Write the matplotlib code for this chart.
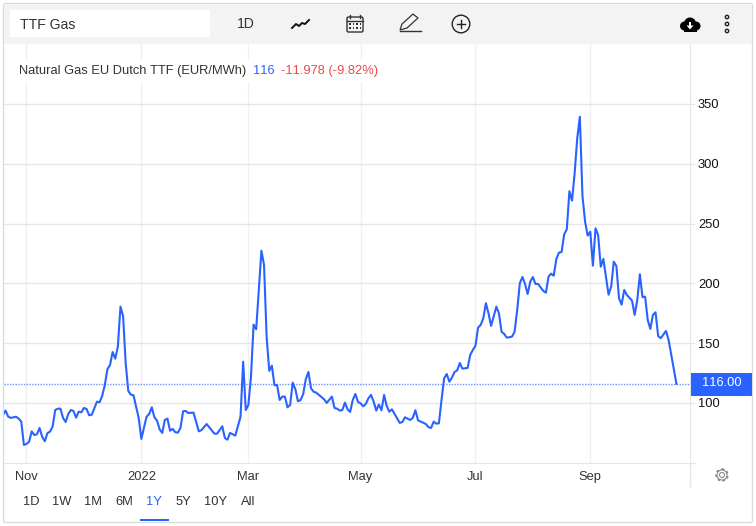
import matplotlib
matplotlib.use("Agg")
import matplotlib.pyplot as plt
import matplotlib.patches as mpatches

plt.rcParams["font.family"] = ["Liberation Sans", "DejaVu Sans"]
plt.rcParams["text.kerning_factor"] = 6

BLUE = "#2962ff"
GRID = "#e6e6e6"
GRID_V = "#f0f0f0"
TEXT = "#333333"
FS = 9.3

# trading sessions counted from 1 Nov 2021, only the visible vertices of the line
sessions = [
    -9, -8, -7, -6, -4, -3, -2, -1, 0, 1, 2, 3, 4, 5, 6, 7, 8, 9, 10, 11, 12, 13, 14, 15, 16, 17, 18, 19, 20,
    21, 22, 23, 24, 25, 27, 28, 29, 30, 31, 32, 33, 34, 35, 36, 37, 38, 39, 40, 41, 43, 44, 46, 47, 48, 49, 50,
    51, 52, 53, 54, 55, 56, 57, 58, 59, 60, 61, 62, 64, 66, 67, 69, 72, 73, 75, 76, 77, 78, 80, 82, 83, 84, 85,
    86, 87, 88, 90, 91, 92, 93, 94, 95, 96, 97, 98, 99, 100, 101, 102, 103, 104, 105, 106, 107, 108, 109, 110,
    111, 114, 115, 117, 118, 119, 120, 121, 122, 123, 124, 125, 126, 127, 128, 129, 130, 131, 132, 133, 134,
    135, 136, 137, 138, 139, 140, 143, 144, 145, 147, 148, 149, 150, 153, 154, 155, 156, 157, 158, 159, 160,
    161, 162, 163, 164, 165, 166, 167, 169, 170, 171, 172, 173, 174, 175, 176, 177, 178, 180, 181, 182, 183,
    184, 186, 187, 188, 189, 190, 191, 192, 193, 194, 195, 196, 198, 199, 200, 201, 202, 203, 204, 205, 206,
    207, 208, 209, 210, 211, 212, 213, 214, 215, 216, 217, 218, 219, 220, 221, 222, 223, 224, 225, 226, 227,
    228, 229, 230, 232, 233, 234, 235, 236, 237, 238, 239, 240, 241, 242, 243, 245, 246, 249,
]
prices = [
    90.0, 93.6, 88.5, 87.5, 88.5, 86.9, 84.4, 64.9, 65.7, 67.6, 76.3, 73.2, 73.8, 79.1, 71.8, 68.0, 74.7, 76.0,
    80.2, 94.1, 95.2, 95.2, 87.5, 84.1, 90.8, 94.1, 93.3, 87.7, 92.7, 92.2, 95.8, 95.0, 89.7, 90.2, 101.1,
    100.6, 105.9, 115.0, 128.2, 131.8, 142.6, 137.0, 147.1, 180.5, 172.7, 133.2, 110.0, 106.9, 106.4, 87.2,
    69.9, 88.5, 90.8, 96.4, 88.0, 85.2, 78.0, 74.9, 85.8, 86.9, 76.8, 78.3, 75.5, 75.2, 79.1, 93.1, 93.3, 91.6,
    91.9, 76.3, 77.2, 82.4, 74.3, 74.3, 80.5, 70.7, 69.3, 74.9, 72.7, 88.5, 134.5, 94.1, 98.3, 122.0, 165.5,
    161.6, 227.3, 215.4, 155.4, 126.8, 131.2, 114.8, 115.0, 102.5, 105.3, 105.3, 96.4, 98.3, 117.0, 111.5,
    101.4, 102.5, 107.3, 119.8, 125.9, 112.3, 109.4, 108.6, 103.1, 100.0, 105.3, 95.8, 95.2, 93.6, 94.1, 100.3,
    94.7, 92.5, 102.5, 107.5, 100.8, 99.7, 97.2, 99.2, 103.9, 106.7, 101.1, 93.6, 98.6, 93.9, 106.7, 97.5, 92.7,
    94.7, 83.3, 84.1, 88.0, 85.8, 87.5, 93.9, 85.5, 82.4, 79.7, 79.1, 84.4, 82.7, 83.0, 102.5, 120.6, 124.2,
    117.8, 121.2, 125.9, 127.2, 133.4, 128.7, 129.3, 140.1, 144.3, 147.7, 163.0, 165.2, 170.8, 183.4, 175.0,
    164.4, 180.5, 175.0, 159.6, 157.7, 154.6, 155.4, 159.6, 177.7, 200.1, 205.3, 199.5, 191.1, 201.4, 205.3,
    199.5, 199.5, 193.6, 192.2, 205.6, 208.1, 206.4, 220.4, 225.7, 226.2, 241.0, 245.2, 277.0, 269.1, 292.0,
    321.3, 339.3, 273.1, 251.6, 239.9, 243.2, 214.8, 246.0, 240.4, 213.9, 220.4, 205.6, 190.5, 197.2, 218.1,
    214.5, 187.5, 182.2, 194.5, 190.3, 185.5, 173.6, 186.1, 207.6, 188.4, 188.9, 169.4, 161.9, 173.6, 175.8,
    156.0, 154.1, 160.2, 152.7, 116.0,
]
last_price = 116

month_ticks = [0, 44, 85, 128, 172, 216]
month_labels = ["Nov", "2022", "Mar", "May", "Jul", "Sep"]
price_ticks = [100, 150, 200, 250, 300, 350]
ranges = ["1D", "1W", "1M", "6M", "1Y", "5Y", "10Y", "All"]
range_x = [31, 62, 93, 124, 154, 183, 216, 248]

W, H = 756, 526
fig = plt.figure(figsize=(W / 100, H / 100), dpi=100)

# page furniture, in pixels
bg = fig.add_axes([0, 0, 1, 1], zorder=0)
bg.set_xlim(0, W)
bg.set_ylim(H, 0)
bg.axis("off")
bg.add_patch(mpatches.FancyBboxPatch((3.5, 3.5), 749, 519, boxstyle="round,pad=0,rounding_size=2",
                                     fc="white", ec="#dcdcdc", lw=1))
bg.add_patch(mpatches.Rectangle((4, 4), 748, 40, fc="#f3f3f3", ec="none"))
bg.add_patch(mpatches.Rectangle((10, 10), 200, 27, fc="white", ec="none"))

# chart
ax = fig.add_axes([4 / W, 1 - 463 / H, 686 / W, 419 / H], zorder=1)
ax.patch.set_alpha(0)
ax.set_xlim(-8.62, 254.2)
ax.set_ylim(49.8, 400.1)
ax.plot(sessions, prices, color=BLUE, lw=1.5, solid_joinstyle="round", zorder=3)
ax.axhline(last_price, color="#6f93fb", lw=1, ls=(0, (1, 1)), zorder=2)

ax.set_xticks(month_ticks)
ax.set_xticklabels(month_labels, fontsize=FS, color=TEXT)
ax.set_yticks(price_ticks)
ax.set_yticklabels(price_ticks, fontsize=FS, color="#111111")
ax.yaxis.tick_right()
ax.tick_params(axis="x", length=0, pad=6)
ax.tick_params(axis="y", length=3.6, width=0.8, color=GRID, pad=2.2)
ax.grid(axis="y", color=GRID, lw=1)
ax.grid(axis="x", color=GRID_V, lw=1)
ax.set_axisbelow(True)
for name in ["top", "left"]:
    ax.spines[name].set_visible(False)
ax.spines["right"].set_color(GRID)
ax.spines["bottom"].set_color(GRID)

# top layer for text and icons
fg = fig.add_axes([0, 0, 1, 1], zorder=2)
fg.set_xlim(0, W)
fg.set_ylim(H, 0)
fg.axis("off")
fg.patch.set_alpha(0)

fg.plot([690, 690], [463, 486], color=GRID, lw=1)
fg.plot([690, 695], [463, 463], color=GRID, lw=1)

# legend line sits on a white strip that cuts the gridlines
fg.add_patch(mpatches.Rectangle((15, 60), 366, 22, fc="white", ec="none"))
fg.text(19, 71, "Natural Gas EU Dutch TTF (EUR/MWh)", fontsize=FS, color=TEXT, va="center")
fg.text(252.5, 71, str(last_price), fontsize=FS, color=BLUE, va="center")
fg.text(281, 71, "-11.978 (-9.82%)", fontsize=FS, color="#f04848", va="center")

fg.add_patch(mpatches.Rectangle((691, 373), 61, 23, fc=BLUE, ec="none"))
fg.text(721.5, 383, "116.00", fontsize=FS, color="white", ha="center", va="center")

fg.text(20, 25, "TTF Gas", fontsize=10.1, color=TEXT, va="center")
fg.text(246, 24.5, "1D", fontsize=10.1, color=TEXT, ha="center", va="center")

for label, px in zip(ranges, range_x):
    fg.text(px, 502, label, fontsize=FS, color=BLUE if label == "1Y" else TEXT, ha="center", va="center")
fg.add_patch(mpatches.Rectangle((140, 519), 29, 2, fc=BLUE, ec="none"))

# line style icon
fg.plot([292, 296, 299, 302, 305, 309], [28, 24, 26, 23, 24, 20], color="#111111", lw=1.4)

# calendar icon
fg.add_patch(mpatches.FancyBboxPatch((347, 17), 16, 15, boxstyle="round,pad=0,rounding_size=1.5",
                                     fc="none", ec="#333333", lw=1))
fg.plot([347, 363], [21, 21], color="#333333", lw=1)
fg.plot([350, 350], [15, 18], color="#333333", lw=1)
fg.plot([360, 360], [15, 18], color="#333333", lw=1)
for row in [24, 28]:
    for col in [350, 353.5, 357, 360.5]:
        fg.add_patch(mpatches.Rectangle((col - 0.8, row - 0.8), 1.6, 1.6, fc="#333333", ec="none"))

# pencil icon
fg.plot([400, 421], [31, 31], color="#333333", lw=1)
fg.add_patch(mpatches.Polygon([(400, 30), (402, 24), (413, 14), (418, 18), (407, 28)],
                              fc="#f3f3f3", ec="#333333", lw=0.9))

# add icon
fg.add_patch(mpatches.Circle((461, 24), 8.8, fc="none", ec="#222222", lw=1))
fg.plot([457, 465], [24, 24], color="#222222", lw=1)
fg.plot([461, 461], [20, 28], color="#222222", lw=1)

# download cloud
for cx, cy, rad in [(684.5, 26, 4.5), (690, 23.5, 6), (696, 26, 4.5)]:
    fg.add_patch(mpatches.Circle((cx, cy), rad, fc="black", ec="none"))
fg.add_patch(mpatches.Rectangle((684, 25), 13, 6.5, fc="black", ec="none"))
fg.add_patch(mpatches.Polygon([(686.5, 25.5), (693.5, 25.5), (690, 29.5)], fc="white", ec="none"))
fg.add_patch(mpatches.Rectangle((688.8, 22), 2.4, 4, fc="white", ec="none"))

# menu dots
for cy in [17, 24, 31]:
    fg.add_patch(mpatches.Circle((727, cy), 1.7, fc="none", ec="#222222", lw=1))

# settings gear
fg.add_patch(mpatches.Circle((722, 475), 5.6, fc="none", ec="#8a8a8a", lw=1.6, ls=(0, (1.1, 1.1))))
fg.add_patch(mpatches.Circle((722, 475), 5.0, fc="white", ec="#8a8a8a", lw=0.8))
fg.add_patch(mpatches.Circle((722, 475), 2.5, fc="white", ec="#8a8a8a", lw=0.8))

fig.savefig("out.png", dpi=100)
plt.close()
